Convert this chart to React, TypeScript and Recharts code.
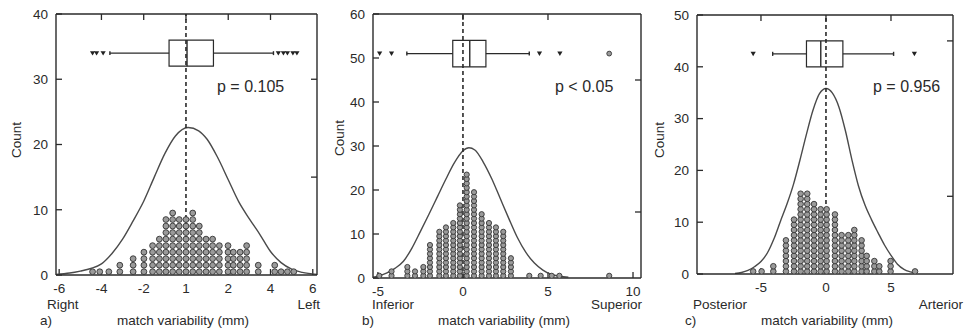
import React from "react";
import {
  ComposedChart,
  Line,
  Scatter,
  XAxis,
  YAxis,
  ReferenceLine,
  ReferenceArea,
} from "recharts";

const FONT = '"Liberation Sans", Arial, sans-serif';
const INK = "#2a2a2a";

// a) right / left — dot columns as [position, count]
const colsA: [number, number][] = [
  [-4.42, 1], [-4.08, 1], [-3.65, 1], [-3.13, 2], [-2.5, 3], [-1.99, 4], [-1.58, 5],
  [-1.26, 6], [-0.95, 9], [-0.63, 10], [-0.32, 9], [0, 9], [0.32, 10], [0.63, 8],
  [0.95, 6], [1.26, 6], [1.58, 5], [1.99, 5], [2.24, 4], [2.56, 4], [2.87, 5],
  [3.42, 2], [4.2, 2], [4.5, 1], [4.8, 1], [5.1, 1],
];
const curveA: [number, number][] = [
  [-6.15, 0.1], [-5.5, 0.3], [-5, 0.6], [-4.5, 1.0], [-4, 1.7], [-3.5, 3.3], [-3, 5.5],
  [-2.5, 8.3], [-2, 11.3], [-1.5, 15], [-1, 18.6], [-0.5, 21.3], [0.1, 22.6], [0.6, 22.1],
  [1, 20.8], [1.5, 18], [2, 14.6], [2.5, 11.2], [3, 8.6], [3.5, 6.2], [4, 3.6],
  [4.5, 1.9], [5, 0.9], [5.5, 0.4], [6.2, 0.1],
];
const boxA = [-3.6, -0.8, 0.05, 1.3, 4.14]; // whisker lo, q1, median, q3, whisker hi
const boxYA = [32, 34, 36];
const outA = [-4.42, -4.23, -3.92, 4.37, 4.61, 4.8, 5.06, 5.25];
const xTicksA = [-6, -4, -2, 0, 2, 4, 6];
const xLabelsA = ["-6", "-4", "-2", "1", "2", "4", "6"];
const yTicksA = [0, 10, 20, 30, 40];
const topTicksA = [-4, -2, 0, 2, 4];
const rightTicksA = [15, 30];

// b) inferior / superior
const colsB: [number, number][] = [
  [-4.92, 1], [-4.2, 2], [-3.27, 3], [-2.82, 2], [-2.33, 3], [-1.94, 8], [-1.39, 11],
  [-1.0, 12], [-0.57, 13], [-0.18, 17], [0.22, 24], [0.65, 20], [1.1, 15], [1.53, 13],
  [1.94, 12], [2.37, 11], [2.82, 5], [3.9, 1], [4.57, 1], [5.22, 1], [5.67, 1], [8.6, 1],
];
const curveB: [number, number][] = [
  [-5.29, 0.2], [-5, 0.4], [-4.5, 1.1], [-4, 2.2], [-3.5, 3.8], [-3, 6.8], [-2.5, 10.6],
  [-2, 14.5], [-1.5, 18.5], [-1, 22.5], [-0.5, 26.2], [0, 28.9], [0.35, 29.6], [0.7, 29.1],
  [1.2, 26.3], [1.7, 22.5], [2.2, 18], [2.7, 13.5], [3.2, 9.2], [3.7, 5.8], [4.2, 3.4],
  [4.7, 1.8], [5.2, 0.8], [5.7, 0.4], [6.2, 0.2],
];
const boxB = [-3.3, -0.6, 0.4, 1.35, 3.9];
const boxYB = [48, 51, 54];
const outB = [-4.9, -4.2, 4.5, 5.7];
const farB = [8.6];
const xTicksB = [-5, 0, 5, 10];
const yTicksB = [0, 10, 20, 30, 40, 50, 60];
const topTicksB = [0, 5];
const rightTicksB = [15, 45];

// c) posterior / arterior
const colsC: [number, number][] = [
  [-5.6, 1], [-4.95, 1], [-4.05, 2], [-3.08, 7], [-2.46, 11], [-1.95, 16], [-1.44, 16],
  [-0.92, 14], [-0.41, 13], [0.05, 13], [0.69, 12], [1.2, 8], [1.72, 8], [2.18, 9],
  [2.74, 7], [3.13, 4], [3.72, 3], [4.1, 2], [4.97, 3], [6.85, 1],
];
const curveC: [number, number][] = [
  [-7, 0.1], [-6.5, 0.3], [-6, 0.7], [-5.5, 1.4], [-5, 2.4], [-4.5, 4.1], [-4, 6.8],
  [-3.5, 10.2], [-3, 13.5], [-2.5, 17.3], [-2, 22], [-1.5, 27], [-1, 31.6], [-0.5, 34.8],
  [0, 35.8], [0.5, 34.9], [1, 32.2], [1.5, 27.6], [2, 22], [2.5, 17], [3, 13.3],
  [3.5, 10.5], [4, 8], [4.5, 5.6], [5, 3.6], [5.5, 1.9], [6, 0.9], [6.5, 0.4], [7, 0.1],
];
const boxC = [-4.1, -1.5, -0.4, 1.3, 5.2];
const boxYC = [40, 42.5, 45];
const outC = [-5.6, 6.8];
const xTicksC = [-5, 0, 5];
const yTicksC = [0, 10, 20, 30, 40, 50];
const topTicksC = [-5, 0, 5];
const rightTicksC = [15, 45];

type PanelProps = {
  left: number;
  width: number;
  margin: { top: number; right: number; bottom: number; left: number };
  xDomain: [number, number];
  yMax: number;
  cols: [number, number][];
  curve: [number, number][];
  box: number[];
  boxY: number[];
  out: number[];
  far?: number[];
  xTicks: number[];
  xLabels?: string[];
  yTicks: number[];
  topTicks: number[];
  rightTicks: number[];
  dotR: number;
  cap: number;
};

const Dot = (r: number) => (props: any) =>
  <circle cx={props.cx} cy={props.cy} r={r} fill="#9a9a9a" stroke="#333" strokeWidth={0.9} />;

const Tri = (props: any) => (
  <path
    d={`M${props.cx - 2.6},${props.cy - 2} L${props.cx + 2.6},${props.cy - 2} L${props.cx},${props.cy + 2.4} Z`}
    fill="#222"
  />
);

const TICK = 6;

// inward tick marks drawn at the ends of a reference line
const XTick = (where: "top" | "bottom") => (props: any) => {
  const top = Math.min(props.y1, props.y2);
  const bot = Math.max(props.y1, props.y2);
  const y1 = where === "top" ? top : bot;
  const y2 = where === "top" ? top + TICK : bot - TICK;
  return <line x1={props.x1} x2={props.x1} y1={y1} y2={y2} stroke={INK} strokeWidth={1.3} />;
};

const YTick = (where: "left" | "right") => (props: any) => {
  const l = Math.min(props.x1, props.x2);
  const r = Math.max(props.x1, props.x2);
  const x1 = where === "left" ? l : r;
  const x2 = where === "left" ? l + TICK : r - TICK;
  return <line x1={x1} x2={x2} y1={props.y1} y2={props.y1} stroke={INK} strokeWidth={1.3} />;
};

function Panel(p: PanelProps) {
  const dots = p.cols.flatMap(([x, n]) =>
    Array.from({ length: n }, (_, k) => ({ x, y: k + 0.5 }))
  );
  const curve = p.curve.map(([x, y]) => ({ x, y }));
  const [lo, q1, med, q3, hi] = p.box;
  const [yb, ym, yt] = p.boxY;
  const out = p.out.map((x) => ({ x, y: ym }));
  const far = (p.far ?? []).map((x) => ({ x, y: ym }));
  const fmt = (v: number) => {
    const i = p.xTicks.indexOf(v);
    return p.xLabels && i >= 0 ? p.xLabels[i] : String(v);
  };
  const ax = { stroke: INK, strokeWidth: 1.4 };
  const tickText = { fill: INK, fontSize: 13.5, fontFamily: FONT };
  const yDom: [number, number] = [0, p.yMax];
  const ids = { xAxisId: "b", yAxisId: "l" };

  return (
    <div style={{ position: "absolute", left: p.left, top: 0 }}>
      <ComposedChart width={p.width} height={300} margin={p.margin}>
        <XAxis
          xAxisId="b"
          dataKey="x"
          type="number"
          domain={p.xDomain}
          ticks={p.xTicks}
          tickFormatter={fmt}
          interval={0}
          tickLine={false}
          axisLine={ax}
          tick={tickText}
          height={20}
          allowDataOverflow
        />
        <XAxis
          xAxisId="t"
          orientation="top"
          type="number"
          domain={p.xDomain}
          mirror
          tick={false}
          tickLine={false}
          axisLine={ax}
          allowDataOverflow
        />
        <YAxis
          yAxisId="l"
          dataKey="y"
          type="number"
          domain={yDom}
          ticks={p.yTicks}
          interval={0}
          tickLine={false}
          axisLine={ax}
          tick={tickText}
          width={36}
          allowDataOverflow
        />
        <YAxis
          yAxisId="r"
          orientation="right"
          type="number"
          domain={yDom}
          mirror
          tick={false}
          tickLine={false}
          axisLine={ax}
          allowDataOverflow
        />

        {p.xTicks.map((t) => (
          <ReferenceLine key={`xb${t}`} {...ids} x={t} shape={XTick("bottom")} />
        ))}
        {p.topTicks.map((t) => (
          <ReferenceLine key={`xt${t}`} {...ids} x={t} shape={XTick("top")} />
        ))}
        {p.yTicks.map((t) => (
          <ReferenceLine key={`yl${t}`} {...ids} y={t} shape={YTick("left")} />
        ))}
        {p.rightTicks.map((t) => (
          <ReferenceLine key={`yr${t}`} {...ids} y={t} shape={YTick("right")} />
        ))}

        <Scatter {...ids} data={dots} shape={Dot(p.dotR)} isAnimationActive={false} />
        <Line
          {...ids}
          data={curve}
          dataKey="y"
          type="monotone"
          stroke="#4a4a4a"
          strokeWidth={1.4}
          dot={false}
          activeDot={false}
          isAnimationActive={false}
        />

        <ReferenceLine {...ids} x={0} stroke={INK} strokeWidth={1.6} strokeDasharray="4 3" />

        <ReferenceArea {...ids} x1={q1} x2={q3} y1={yb} y2={yt} fill="none" stroke={INK} strokeWidth={1.2} />
        <ReferenceLine {...ids} segment={[{ x: med, y: yb }, { x: med, y: yt }]} stroke={INK} strokeWidth={1.4} />
        <ReferenceLine {...ids} segment={[{ x: lo, y: ym }, { x: q1, y: ym }]} stroke={INK} strokeWidth={1.1} />
        <ReferenceLine {...ids} segment={[{ x: q3, y: ym }, { x: hi, y: ym }]} stroke={INK} strokeWidth={1.1} />
        <ReferenceLine {...ids} segment={[{ x: lo, y: ym - p.cap }, { x: lo, y: ym + p.cap }]} stroke={INK} strokeWidth={1.4} />
        <ReferenceLine {...ids} segment={[{ x: hi, y: ym - p.cap }, { x: hi, y: ym + p.cap }]} stroke={INK} strokeWidth={1.4} />

        <Scatter {...ids} data={out} shape={Tri} isAnimationActive={false} />
        <Scatter {...ids} data={far} shape={Dot(2.4)} isAnimationActive={false} />
      </ComposedChart>
    </div>
  );
}

const txt: React.CSSProperties = {
  position: "absolute",
  fontFamily: FONT,
  fontSize: 13.5,
  color: INK,
  lineHeight: "14px",
  whiteSpace: "nowrap",
};

function Label({ x, y, children, align = "left", size }: any) {
  const shift = align === "right" ? "translateX(-100%)" : align === "center" ? "translateX(-50%)" : "none";
  return (
    <div style={{ ...txt, left: x, top: y - 7, transform: shift, fontSize: size ?? 13.5, lineHeight: size ? "18px" : "14px" }}>
      {children}
    </div>
  );
}

function Count({ x, y }: { x: number; y: number }) {
  return (
    <div
      style={{
        ...txt,
        left: x,
        top: y,
        transform: "translate(-50%, -50%) rotate(-90deg)",
      }}
    >
      Count
    </div>
  );
}

export default function App() {
  return (
    <div
      style={{
        position: "absolute",
        left: 0,
        top: 0,
        width: 964,
        height: 330,
        background: "#fff",
        overflow: "hidden",
      }}
    >
      <Panel
        left={0}
        width={330}
        margin={{ top: 14, right: 13, bottom: 5, left: 20 }}
        xDomain={[-6.15, 6.2]}
        yMax={40}
        cols={colsA}
        curve={curveA}
        box={boxA}
        boxY={boxYA}
        out={outA}
        xTicks={xTicksA}
        xLabels={xLabelsA}
        yTicks={yTicksA}
        topTicks={topTicksA}
        rightTicks={rightTicksA}
        dotR={2.9}
        cap={0.3}
      />
      <Panel
        left={320}
        width={330}
        margin={{ top: 14, right: 9, bottom: 2, left: 17 }}
        xDomain={[-5.29, 10.47]}
        yMax={60}
        cols={colsB}
        curve={curveB}
        box={boxB}
        boxY={boxYB}
        out={outB}
        far={farB}
        xTicks={xTicksB}
        yTicks={yTicksB}
        topTicks={topTicksB}
        rightTicks={rightTicksB}
        dotR={2.6}
        cap={0.45}
      />
      <Panel
        left={640}
        width={324}
        margin={{ top: 15, right: 11, bottom: 6, left: 21 }}
        xDomain={[-9.92, 9.77]}
        yMax={50}
        cols={colsC}
        curve={curveC}
        box={boxC}
        boxY={boxYC}
        out={outC}
        xTicks={xTicksC}
        yTicks={yTicksC}
        topTicks={topTicksC}
        rightTicks={rightTicksC}
        dotR={2.8}
        cap={0.4}
      />

      <Count x={17} y={140} />
      <Count x={340} y={138} />
      <Count x={660} y={140} />

      <Label x={217} y={85} size={16}>p = 0.105</Label>
      <Label x={555} y={85} size={16}>p &lt; 0.05</Label>
      <Label x={873} y={85} size={16}>p = 0.956</Label>

      <Label x={47} y={305}>Right</Label>
      <Label x={320} y={305} align="right">Left</Label>
      <Label x={372} y={305}>Inferior</Label>
      <Label x={642} y={305} align="right">Superior</Label>
      <Label x={693} y={305}>Posterior</Label>
      <Label x={963} y={305} align="right">Arterior</Label>

      <Label x={40} y={321}>a)</Label>
      <Label x={183} y={321} align="center">match variability (mm)</Label>
      <Label x={362} y={321}>b)</Label>
      <Label x={504} y={321} align="center">match variability (mm)</Label>
      <Label x={685} y={321}>c)</Label>
      <Label x={827} y={321} align="center">match variability (mm)</Label>
    </div>
  );
}
